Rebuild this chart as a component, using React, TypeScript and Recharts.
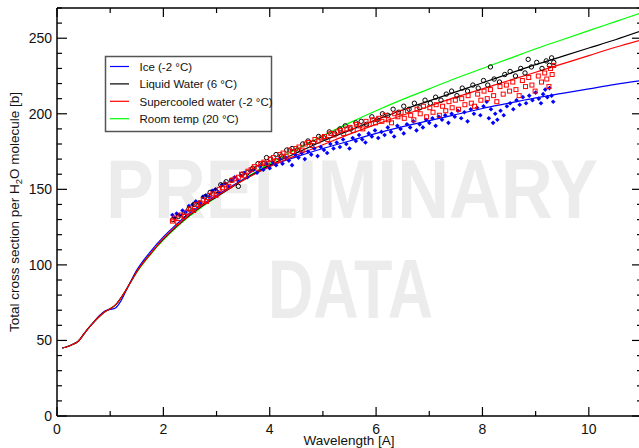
import React from 'react';
import { ComposedChart, Line, Scatter, XAxis, YAxis } from 'recharts';

// model curves, sampled on a shared wavelength grid
const curveX = [0.1, 0.2, 0.3, 0.4, 0.5, 0.6, 0.7, 0.8, 0.9, 1.0, 1.1, 1.2, 1.3, 1.4, 1.5, 1.75, 2.0, 2.25, 2.5, 2.75, 3.0, 3.5, 4, 4.5, 5, 5.5, 6, 6.5, 7, 7.5, 8, 8.5, 9, 9.5, 10, 10.5, 11];
const iceCurve = [45, 46, 47.5, 49.5, 54, 58.5, 62.5, 66.5, 69.5, 70.5, 71.5, 76, 83, 90, 96.5, 108.5, 118.5, 127, 134.5, 140.5, 146, 156.5, 165.5, 171.5, 177, 182, 187, 191.5, 195.5, 199.5, 203.5, 207, 210.5, 213.5, 216.5, 219.5, 222];
const liquidCurve = [45, 46, 47.5, 49.5, 54, 58.5, 62.5, 66, 69, 71, 73.5, 78, 83.5, 89.5, 95.5, 107, 117, 125.5, 133, 139.5, 145, 156, 166, 174, 182, 189, 196, 202.5, 208.5, 214.5, 220.5, 226.5, 232.5, 238, 243.5, 249, 255];
const superCurve = [45, 46, 47.5, 49.5, 54, 58.5, 62.5, 66, 69, 71, 73.5, 78, 83.5, 89.5, 95.5, 107, 117.5, 126, 133.5, 140, 145.5, 156, 165, 172.5, 179.5, 186.5, 193, 199, 205, 211, 216.5, 222, 227.5, 233, 238.5, 244, 249];
const roomCurve = [45, 46, 47.5, 49.5, 54, 58.5, 62.5, 66, 69, 71, 73.5, 78, 83.5, 89.5, 95, 106.5, 116.5, 125, 132.5, 139, 145, 156.5, 167, 176.5, 185.5, 194, 202, 209.5, 216.5, 223.5, 230, 236.5, 243, 249, 255, 261, 267];

// measured points [wavelength, cross section]
const icePoints: [number, number][] = [
  [2.17, 133], [2.21, 131], [2.25, 134], [2.3, 133], [2.36, 136], [2.42, 135], [2.48, 139], [2.55, 140], [2.61, 142], [2.68, 141],
  [2.74, 145], [2.8, 146], [2.86, 145], [2.92, 149], [2.98, 150], [3.04, 148], [3.1, 153], [3.16, 154], [3.22, 152], [3.28, 156],
  [3.34, 158], [3.4, 156], [3.46, 159], [3.52, 161], [3.58, 158], [3.64, 162], [3.7, 163], [3.76, 161], [3.82, 165], [3.88, 163],
  [3.94, 167], [4.0, 164], [4.06, 168], [4.12, 166], [4.18, 170], [4.24, 167], [4.3, 171], [4.36, 169], [4.42, 166], [4.48, 173],
  [4.54, 171], [4.6, 174], [4.66, 170], [4.72, 175], [4.78, 173], [4.84, 177], [4.9, 172], [4.96, 178], [5.02, 176], [5.08, 174],
  [5.14, 180], [5.2, 177], [5.26, 181], [5.32, 178], [5.38, 183], [5.44, 180], [5.5, 177], [5.56, 184], [5.62, 182], [5.68, 186],
  [5.74, 183], [5.8, 181], [5.86, 187], [5.92, 185], [5.98, 189], [6.04, 184], [6.1, 188], [6.16, 186], [6.22, 191], [6.28, 188],
  [6.34, 185], [6.4, 192], [6.46, 190], [6.52, 187], [6.58, 193], [6.64, 191], [6.7, 195], [6.76, 189], [6.82, 193], [6.88, 191],
  [6.94, 196], [7.0, 194], [7.06, 197], [7.12, 192], [7.18, 198], [7.24, 196], [7.3, 199], [7.36, 194], [7.42, 200], [7.48, 198],
  [7.54, 202], [7.6, 197], [7.66, 201], [7.72, 195], [7.78, 203], [7.84, 200], [7.9, 204], [7.96, 199], [8.02, 205], [8.08, 208],
  [8.12, 197], [8.16, 203], [8.2, 194], [8.24, 200], [8.28, 196], [8.34, 202], [8.4, 199], [8.46, 205], [8.52, 207], [8.58, 203],
  [8.64, 209], [8.7, 206], [8.76, 211], [8.82, 207], [8.88, 212], [8.94, 209], [9.0, 214], [9.06, 210], [9.1, 207], [9.14, 213],
  [9.18, 216], [9.22, 211], [9.26, 217], [9.3, 212], [9.33, 208],
];
const liquidPoints: [number, number][] = [
  [2.18, 130], [2.28, 132], [2.38, 133], [2.48, 137], [2.58, 140], [2.68, 141], [2.78, 145], [2.88, 148], [2.98, 149], [3.08, 153],
  [3.18, 155], [3.28, 156], [3.41, 152], [3.48, 160], [3.58, 161], [3.68, 164], [3.78, 167], [3.88, 167], [3.94, 171], [4.02, 170],
  [4.12, 173], [4.22, 172], [4.32, 176], [4.42, 177], [4.52, 176], [4.62, 180], [4.72, 182], [4.82, 181], [4.92, 185], [5.02, 184],
  [5.12, 188], [5.22, 187], [5.32, 190], [5.42, 192], [5.52, 190], [5.62, 194], [5.72, 195], [5.82, 193], [5.92, 198], [6.02, 196],
  [6.12, 200], [6.22, 199], [6.32, 203], [6.42, 201], [6.52, 205], [6.62, 203], [6.72, 207], [6.82, 204], [6.92, 209], [7.02, 207],
  [7.12, 211], [7.22, 209], [7.32, 213], [7.42, 215], [7.52, 212], [7.62, 217], [7.72, 215], [7.82, 219], [7.92, 217], [8.02, 222],
  [8.1, 219], [8.15, 231], [8.22, 223], [8.32, 221], [8.42, 226], [8.52, 228], [8.62, 225], [8.72, 230], [8.8, 227], [8.86, 236],
  [8.92, 231], [9.02, 234], [9.12, 230], [9.2, 235], [9.26, 232], [9.3, 237], [9.34, 234],
];
const superPoints: [number, number][] = [
  [2.17, 129], [2.22, 131], [2.27, 128], [2.33, 133], [2.39, 132], [2.45, 135], [2.51, 137], [2.57, 136], [2.63, 140], [2.69, 141],
  [2.75, 143], [2.81, 142], [2.87, 146], [2.93, 147], [2.99, 146], [3.05, 150], [3.11, 151], [3.17, 153], [3.23, 152], [3.29, 156],
  [3.35, 157], [3.41, 158], [3.47, 160], [3.53, 159], [3.59, 162], [3.65, 163], [3.71, 165], [3.77, 164], [3.83, 167], [3.89, 168],
  [3.95, 167], [4.01, 170], [4.07, 171], [4.13, 169], [4.19, 173], [4.25, 174], [4.31, 172], [4.37, 176], [4.43, 175], [4.49, 177],
  [4.55, 178], [4.61, 176], [4.67, 180], [4.73, 181], [4.79, 179], [4.85, 183], [4.91, 182], [4.97, 184], [5.03, 185], [5.09, 183],
  [5.15, 187], [5.21, 186], [5.27, 188], [5.33, 189], [5.39, 187], [5.45, 190], [5.51, 191], [5.57, 189], [5.63, 193], [5.69, 192],
  [5.75, 190], [5.81, 195], [5.87, 193], [5.93, 196], [5.99, 194], [6.05, 197], [6.11, 195], [6.17, 199], [6.23, 196], [6.29, 194],
  [6.35, 200], [6.41, 198], [6.47, 201], [6.53, 197], [6.59, 202], [6.65, 199], [6.71, 196], [6.77, 203], [6.83, 200], [6.89, 205],
  [6.95, 198], [7.01, 204], [7.07, 201], [7.13, 206], [7.19, 199], [7.25, 205], [7.31, 202], [7.37, 208], [7.43, 204], [7.49, 209],
  [7.55, 203], [7.61, 210], [7.67, 206], [7.73, 212], [7.79, 207], [7.85, 205], [7.91, 213], [7.97, 209], [8.03, 215], [8.09, 210],
  [8.15, 216], [8.21, 212], [8.27, 208], [8.33, 218], [8.39, 213], [8.45, 219], [8.51, 215], [8.57, 221], [8.63, 216], [8.69, 212],
  [8.75, 222], [8.81, 218], [8.87, 224], [8.93, 219], [8.99, 215], [9.05, 225], [9.11, 221], [9.17, 227], [9.21, 223], [9.25, 218],
  [9.28, 230], [9.31, 226], [9.34, 232],
];

const xTicks = [0, 1, 2, 3, 4, 5, 6, 7, 8, 9, 10, 11];
const yTicks = [0, 10, 20, 30, 40, 50, 60, 70, 80, 90, 100, 110, 120, 130, 140, 150, 160, 170, 180, 190, 200, 210, 220, 230, 240, 250, 260, 270];

const legendItems = [
  { label: 'Ice (-2 °C)', color: '#0000ff' },
  { label: 'Liquid Water (6 °C)', color: '#000000' },
  { label: 'Supercooled water (-2 °C)', color: '#ff0000' },
  { label: 'Room temp (20 °C)', color: '#00ff00' },
];

const FONT = '"Liberation Sans", Arial, Helvetica, sans-serif';

const toRows = (xs: number[], ys: number[]) => xs.map((x, i) => ({ x, y: ys[i] }));
const pairRows = (pts: [number, number][]) => pts.map(([x, y]) => ({ x, y }));

const BottomTick = ({ x, y, payload }: any) => {
  const major = payload.value % 2 === 0;
  return (
    <g>
      <line x1={x} x2={x} y1={y} y2={y - (major ? 9 : 5)} stroke="#000" strokeWidth={1.2} />
      {major && (
        <text x={x} y={y + 18} textAnchor="middle" fontSize={14} fontFamily={FONT} fill="#111">
          {payload.value}
        </text>
      )}
    </g>
  );
};

const TopTick = ({ x, y, payload }: any) => {
  const major = payload.value % 2 === 0;
  return <line x1={x} x2={x} y1={y} y2={y + (major ? 9 : 5)} stroke="#000" strokeWidth={1.2} />;
};

const LeftTick = ({ x, y, payload }: any) => {
  const major = payload.value % 50 === 0;
  return (
    <g>
      <line x1={x} x2={x + (major ? 10 : 5)} y1={y} y2={y} stroke="#000" strokeWidth={1.2} />
      {major && (
        <text x={x - 5} y={y + 5} textAnchor="end" fontSize={14} fontFamily={FONT} fill="#111">
          {payload.value}
        </text>
      )}
    </g>
  );
};

const RightTick = ({ x, y, payload }: any) => {
  const major = payload.value % 50 === 0;
  return <line x1={x} x2={x - (major ? 10 : 5)} y1={y} y2={y} stroke="#000" strokeWidth={1.2} />;
};

const IceMark = (p: any) => (
  <path d={`M${p.cx},${p.cy - 2.3}L${p.cx + 2.3},${p.cy}L${p.cx},${p.cy + 2.3}L${p.cx - 2.3},${p.cy}Z`} fill="#0000ff" />
);
const LiquidMark = (p: any) => <circle cx={p.cx} cy={p.cy} r={2.2} fill="none" stroke="#000" strokeWidth={1} />;
const SuperMark = (p: any) => (
  <rect x={p.cx - 2} y={p.cy - 2} width={4} height={4} fill="none" stroke="#ff0000" strokeWidth={1} />
);

const tickAxis = { tickSize: 0, tickMargin: 0, tickLine: false, interval: 0 as const, allowDataOverflow: true, axisLine: { stroke: '#000', strokeWidth: 1.5 } };

export default function App() {
  return (
    <div style={{ position: 'absolute', left: 0, top: 0, width: 639, height: 448, overflow: 'hidden', background: '#fff' }}>
      <svg width={639} height={448} style={{ position: 'absolute', left: 0, top: 0 }}>
        <text x={106} y={218} fontSize={84} fontWeight="bold" fontFamily={FONT} fill="#ececec" textLength={492} lengthAdjust="spacingAndGlyphs">
          PRELIMINARY
        </text>
        <text x={268} y={318} fontSize={84} fontWeight="bold" fontFamily={FONT} fill="#ececec" textLength={165} lengthAdjust="spacingAndGlyphs">
          DATA
        </text>
        <text transform="translate(19,212) rotate(-90)" textAnchor="middle" fontSize={13.5} fontFamily={FONT} fill="#111">
          Total cross section per H<tspan fontSize={9.5} dy={3}>2</tspan><tspan dy={-3}>O molecule [b]</tspan>
        </text>
        <text x={349} y={445} textAnchor="middle" fontSize={13.5} fontFamily={FONT} fill="#111">
          Wavelength [A]
        </text>
      </svg>
      <div style={{ position: 'absolute', left: 0, top: 0 }}>
        <ComposedChart width={643} height={448} margin={{ top: 7, right: 0, left: 0, bottom: 0 }}>
          <XAxis dataKey="x" type="number" domain={[0, 11]} ticks={xTicks} height={32} tick={<BottomTick />} {...tickAxis} />
          <XAxis xAxisId="top" orientation="top" dataKey="x" type="number" domain={[0, 11]} ticks={xTicks} height={1} tick={<TopTick />} {...tickAxis} />
          <YAxis dataKey="y" type="number" domain={[0, 270]} ticks={yTicks} width={57} tick={<LeftTick />} {...tickAxis} />
          <YAxis yAxisId="right" orientation="right" dataKey="y" type="number" domain={[0, 270]} ticks={yTicks} width={1} tick={<RightTick />} {...tickAxis} />
          <Scatter data={pairRows(icePoints)} dataKey="y" shape={IceMark} isAnimationActive={false} />
          <Scatter data={pairRows(liquidPoints)} dataKey="y" shape={LiquidMark} isAnimationActive={false} />
          <Scatter data={pairRows(superPoints)} dataKey="y" shape={SuperMark} isAnimationActive={false} />
          <Line data={toRows(curveX, roomCurve)} dataKey="y" type="monotone" stroke="#00ff00" strokeWidth={1.2} dot={false} isAnimationActive={false} />
          <Line data={toRows(curveX, iceCurve)} dataKey="y" type="monotone" stroke="#0000ff" strokeWidth={1.2} dot={false} isAnimationActive={false} />
          <Line data={toRows(curveX, liquidCurve)} dataKey="y" type="monotone" stroke="#000000" strokeWidth={1.2} dot={false} isAnimationActive={false} />
          <Line data={toRows(curveX, superCurve)} dataKey="y" type="monotone" stroke="#ff0000" strokeWidth={1.2} dot={false} isAnimationActive={false} />
        </ComposedChart>
      </div>
      <svg width={639} height={448} style={{ position: 'absolute', left: 0, top: 0, pointerEvents: 'none' }}>
        <rect x={105.5} y={56.5} width={166} height={75} fill="none" stroke="#555" strokeWidth={1.5} />
        {legendItems.map((item, i) => (
          <g key={item.label}>
            <line x1={110} x2={129} y1={66.5 + i * 17.4} y2={66.5 + i * 17.4} stroke={item.color} strokeWidth={1.2} />
            <text x={139.5} y={70.7 + i * 17.4} fontSize={11.5} fontFamily={FONT} fill="#111">
              {item.label}
            </text>
          </g>
        ))}
      </svg>
    </div>
  );
}
